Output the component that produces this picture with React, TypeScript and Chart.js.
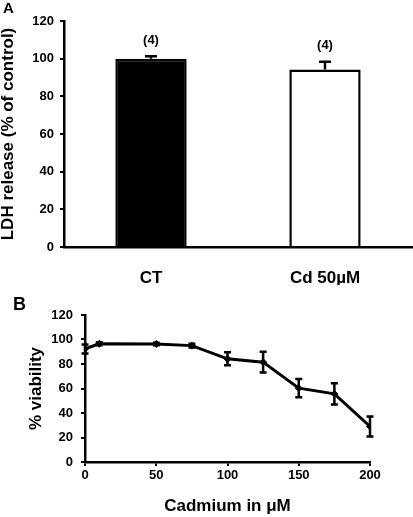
import React, { useEffect, useRef } from "react";
import { Chart, registerables } from "chart.js";

Chart.register(...registerables);

// ---------- Data: panel A (LDH release) ----------
const barCategories = ["CT", "Cd 50µM"];
const barValues = [100, 94.2];
const barErrors = [1.3, 4.2];
const barNLabels = ["(4)", "(4)"];
const barFills = ["#000000", "#ffffff"];
const barYTitle = "LDH release (% of control)";

// ---------- Data: panel B (viability) ----------
const doses = [0, 10, 50, 75, 100, 125, 150, 175, 200];
const viability = [92.3, 96.5, 96.4, 95.0, 84.2, 81.5, 60.3, 55.6, 29.0];
const viabilityErr = [3.7, 1.2, 1.0, 1.5, 5.3, 8.5, 7.4, 8.6, 8.1];
const lineXTitle = "Cadmium in μM";
const lineYTitle = "% viability";

const FONT = "'Liberation Sans', Arial, Helvetica, sans-serif";

const barPlugin = {
  id: "barExtras",
  afterDatasetsDraw(chart: any) {
    const ctx = chart.ctx;
    const meta = chart.getDatasetMeta(0);
    const y = chart.scales.y;
    ctx.save();
    ctx.strokeStyle = "#000";
    ctx.fillStyle = "#000";
    ctx.lineWidth = 2.5;
    meta.data.forEach((el: any, i: number) => {
      const x = el.x;
      const base = y.getPixelForValue(barValues[i]);
      const top = y.getPixelForValue(barValues[i] + barErrors[i]);
      ctx.beginPath();
      ctx.moveTo(x, base);
      ctx.lineTo(x, top);
      ctx.moveTo(x - 6, top);
      ctx.lineTo(x + 6, top);
      ctx.stroke();
      ctx.font = `bold 13px ${FONT}`;
      ctx.textAlign = "center";
      ctx.textBaseline = "middle";
      ctx.fillText(barNLabels[i], x, top - 16);
    });
    ctx.font = `bold 15px ${FONT}`;
    ctx.textAlign = "left";
    ctx.textBaseline = "alphabetic";
    ctx.fillText("A", 3, 13);
    ctx.restore();
  },
};

const linePlugin = {
  id: "lineExtras",
  afterDatasetsDraw(chart: any) {
    const ctx = chart.ctx;
    const xs = chart.scales.x;
    const ys = chart.scales.y;
    ctx.save();
    ctx.strokeStyle = "#000";
    ctx.fillStyle = "#000";
    ctx.lineWidth = 2.5;
    doses.forEach((d, i) => {
      const x = xs.getPixelForValue(d);
      const t = ys.getPixelForValue(viability[i] + viabilityErr[i]);
      const b = ys.getPixelForValue(viability[i] - viabilityErr[i]);
      ctx.beginPath();
      ctx.moveTo(x, t);
      ctx.lineTo(x, b);
      ctx.moveTo(x - 3.5, t);
      ctx.lineTo(x + 3.5, t);
      ctx.moveTo(x - 3.5, b);
      ctx.lineTo(x + 3.5, b);
      ctx.stroke();
    });
    ctx.font = `bold 18px ${FONT}`;
    ctx.textAlign = "left";
    ctx.textBaseline = "alphabetic";
    ctx.fillText("B", 13, 25);
    ctx.restore();
  },
};

export default function App() {
  const refA = useRef<HTMLCanvasElement>(null);
  const refB = useRef<HTMLCanvasElement>(null);

  useEffect(() => {
    Chart.defaults.font.family = FONT;
    Chart.defaults.font.weight = "bold" as any;
    Chart.defaults.color = "#000";

    const chartA = new Chart(refA.current as HTMLCanvasElement, {
      type: "bar",
      data: {
        labels: barCategories,
        datasets: [
          {
            data: barValues,
            backgroundColor: barFills,
            borderColor: "#000",
            borderWidth: 2.5,
            borderSkipped: "start",
            categoryPercentage: 0.41,
            barPercentage: 1,
          },
        ],
      },
      options: {
        responsive: false,
        animation: false,
        layout: { padding: { top: 21, right: 1, left: 0, bottom: 0 } },
        plugins: { legend: { display: false }, tooltip: { enabled: false } },
        scales: {
          x: {
            grid: { display: false },
            border: { display: true, color: "#000", width: 2.5 },
            ticks: { font: { size: 17, weight: "bold" }, color: "#000", padding: 13 },
            afterFit: (s: any) => {
              s.height = 38;
            },
          },
          y: {
            min: 0,
            max: 120,
            ticks: { stepSize: 20, font: { size: 13, weight: "bold" }, color: "#000", padding: 6 },
            grid: { drawOnChartArea: false, tickLength: 4, color: "#000", lineWidth: 2 },
            border: { display: true, color: "#000", width: 2.5 },
            title: {
              display: true,
              text: barYTitle,
              color: "#000",
              font: { size: 17, weight: "bold", lineHeight: 1 },
              padding: { top: 0, bottom: 0 },
            },
            afterFit: (s: any) => {
              s.width = 64;
            },
          },
        },
      },
      plugins: [barPlugin],
    });

    const chartB = new Chart(refB.current as HTMLCanvasElement, {
      type: "line",
      data: {
        datasets: [
          {
            data: doses.map((d, i) => ({ x: d, y: viability[i] })),
            borderColor: "#000",
            backgroundColor: "#000",
            borderWidth: 3,
            pointStyle: "rectRot",
            pointRadius: 3.5,
            pointBorderWidth: 1,
            tension: 0,
          },
        ],
      },
      options: {
        responsive: false,
        animation: false,
        layout: { padding: { top: 30, right: 43, left: 0, bottom: 0 } },
        plugins: { legend: { display: false }, tooltip: { enabled: false } },
        scales: {
          x: {
            type: "linear",
            min: 0,
            max: 200,
            ticks: { stepSize: 50, font: { size: 13, weight: "bold" }, color: "#000", padding: 2 },
            grid: { drawOnChartArea: false, tickLength: 4, color: "#000", lineWidth: 2 },
            border: { display: true, color: "#000", width: 2.5 },
            title: {
              display: true,
              text: lineXTitle,
              color: "#000",
              font: { size: 17, weight: "bold" },
              padding: { top: 0, bottom: 0 },
            },
            afterFit: (s: any) => {
              s.height = 55;
            },
          },
          y: {
            min: 0,
            max: 120,
            ticks: { stepSize: 20, font: { size: 13, weight: "bold" }, color: "#000", padding: 8 },
            grid: { drawOnChartArea: false, tickLength: 4, color: "#000", lineWidth: 2 },
            border: { display: true, color: "#000", width: 2.5 },
            title: {
              display: true,
              text: lineYTitle,
              color: "#000",
              font: { size: 17, weight: "bold" },
              padding: { top: 26, bottom: 0 },
            },
            afterFit: (s: any) => {
              s.width = 85;
            },
          },
        },
      },
      plugins: [linePlugin],
    });

    return () => {
      chartA.destroy();
      chartB.destroy();
    };
  }, []);

  return (
    <div style={{ position: "absolute", left: 0, top: 0, width: 413, height: 517, background: "#fff", overflow: "hidden" }}>
      <canvas ref={refA} width={413} height={285} style={{ position: "absolute", left: 0, top: 0, width: 413, height: 285 }} />
      <canvas ref={refB} width={413} height={232} style={{ position: "absolute", left: 0, top: 285, width: 413, height: 232 }} />
    </div>
  );
}
